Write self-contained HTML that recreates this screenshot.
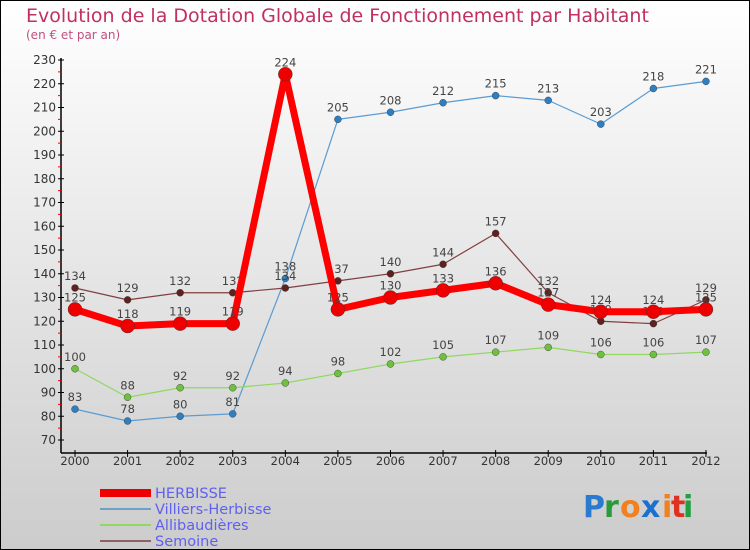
<!DOCTYPE html>
<html><head><meta charset="utf-8"><style>
body{margin:0;width:750px;height:550px;overflow:hidden}
svg{display:block;font-family:"DejaVu Sans","Liberation Sans",sans-serif}
</style></head><body>
<svg width="750" height="550">
<defs><linearGradient id="bg" x1="0" y1="0" x2="0" y2="1"><stop offset="0" stop-color="#ffffff"/><stop offset="1" stop-color="#cccccc"/></linearGradient></defs>
<rect x="0.5" y="0.5" width="749" height="549" fill="url(#bg)" stroke="#000"/>
<text x="26" y="22" font-size="19" fill="#c03060">Evolution de la Dotation Globale de Fonctionnement par Habitant</text>
<text x="26" y="39" font-size="12" fill="#c05080">(en € et par an)</text>
<g id="axes"></g><g id="series"></g><g id="legend"></g>
<g font-size="30" font-weight="bold" font-family="DejaVu Sans, sans-serif">
<text x="583" y="517" fill="#2a7ad0">P</text><text x="604" y="517" fill="#2a9a3a">r</text><text x="620" y="517" fill="#f08020">o</text><text x="641" y="517" fill="#1a70d0">x</text><text x="662" y="517" fill="#f08020">i</text><text x="671" y="517" fill="#e03020">t</text><text x="683" y="517" fill="#20a040">i</text>
</g>
</svg>
<script>
const years=["2000","2001","2002","2003","2004","2005","2006","2007","2008","2009","2010","2011","2012"];
const yTicks=[70,80,90,100,110,120,130,140,150,160,170,180,190,200,210,220,230];
const herbisse=[125,118,119,119,224,125,130,133,136,127,124,124,125];
const villiers=[83,78,80,81,138,205,208,212,215,213,203,218,221];
const allib=[100,88,92,92,94,98,102,105,107,109,106,106,107];
const semoine=[134,129,132,132,134,137,140,144,157,132,120,119,129];
const NS="http://www.w3.org/2000/svg";
const X=i=>75+i*52.58, Y=v=>440-(v-70)*2.375;
function mk(t,a,p){const e=document.createElementNS(NS,t);for(const k in a)e.setAttribute(k,a[k]);p.appendChild(e);return e;}
const ax=document.getElementById('axes');
let l=mk('line',{x1:61,y1:58,x2:61,y2:453,stroke:'#000','stroke-width':1.5},ax);


l=mk('line',{x1:61,y1:453,x2:707,y2:453,stroke:'#000','stroke-width':1.5},ax);


yTicks.forEach(v=>{mk('line',{x1:58,x2:64,y1:Y(v),y2:Y(v),stroke:'#000'},ax);
 if(v<230)mk('line',{x1:58,x2:61,y1:Y(v+5),y2:Y(v+5),stroke:'#e00'},ax);
 const t=mk('text',{x:56,y:Y(v)+4,'font-size':12,fill:'#333','text-anchor':'end'},ax);t.textContent=v;
 
 });
years.forEach((y,i)=>{mk('line',{x1:X(i),x2:X(i),y1:450,y2:457,stroke:'#000'},ax);
 const t=mk('text',{x:X(i),y:465,'font-size':11.5,fill:'#333','text-anchor':'middle'},ax);t.textContent=y;
 
 });
const sg=document.getElementById('series');
const series=[[villiers,'#5b9bd0','#2f7fc0',1.2,3.5,'villiers-herbisse'],[allib,'#90d860','#70c040',1.2,3.5,'allibaudieres'],[semoine,'#804040','#602020',1.2,3.5,'semoine'],[herbisse,'#ff0000','#ee0000',7,7,'herbisse']];
series.forEach(([d,c,mc,w,r,n])=>{
 const g=mk('g',{},sg);
 const p=mk('polyline',{points:d.map((v,i)=>X(i)+','+Y(v)).join(' '),fill:'none',stroke:c,'stroke-width':w,'stroke-linejoin':'round'},g);
 
 
 d.forEach((v,i)=>{const m=mk('circle',{cx:X(i),cy:Y(v),r:r,fill:mc,stroke:'#333','stroke-width':0.4},g);
  
  
  const t=mk('text',{x:X(i),y:Y(v)-8,'font-size':11.5,fill:'#444','text-anchor':'middle'},g);t.textContent=v;
  
  });
});
const lg=document.getElementById('legend');
[['HERBISSE','#ee0000',8],['Villiers-Herbisse','#6fa0c8',2],['Allibaudières','#90d860',2],['Semoine','#906060',2]].forEach(([n,c,w],i)=>{
 const y=491+i*16;
 const g=mk('g',{},lg);
 mk('line',{x1:100,x2:151,y1:y+2,y2:y+2,stroke:c,'stroke-width':w},g);
 const t=mk('text',{x:155,y:y+7,'font-size':14.5,fill:'#6060f0'},g);t.textContent=n;
});
</script>
</body></html>
